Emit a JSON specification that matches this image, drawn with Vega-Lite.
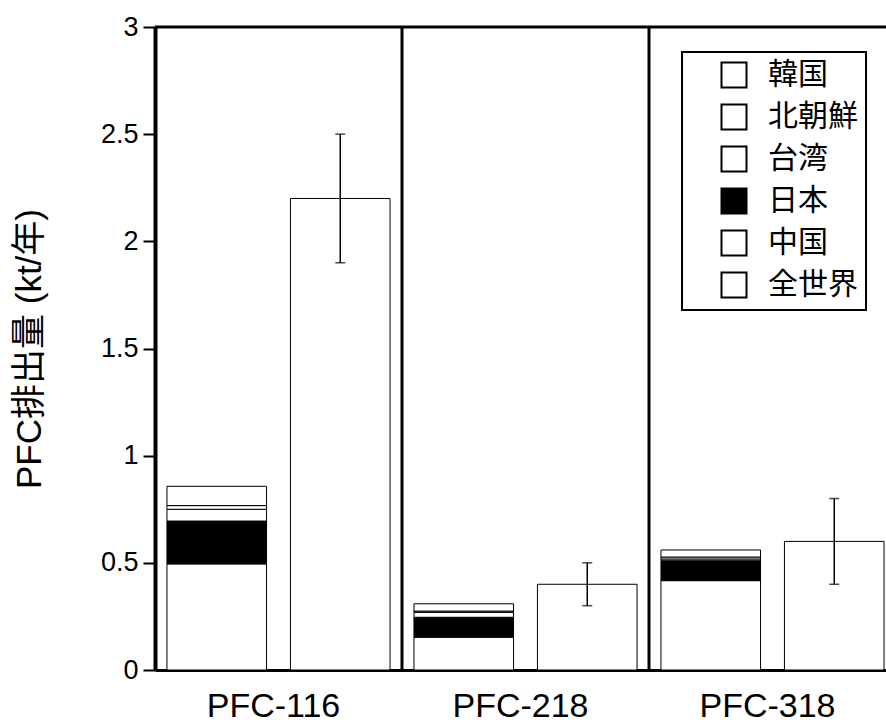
{
  "$schema": "https://vega.github.io/schema/vega-lite/v6.json",
  "width": 731,
  "height": 643,
  "autosize": {"type": "none"},
  "padding": {"left": 155, "top": 27, "right": 0, "bottom": 52},
  "config": {
    "view": {"stroke": null},
    "font": "Liberation Sans",
    "axis": {"domainColor": "black", "tickColor": "black", "labelColor": "black", "titleColor": "black", "grid": false},
    "legend": {"strokeColor": "black", "strokeWidth": 2, "fillColor": "white"}
  },
  "datasets": {
    "stack": [
      {"group": "PFC-116", "bar": "国別", "country": "中国", "k": 1, "value": 0.495},
      {"group": "PFC-116", "bar": "国別", "country": "日本", "k": 2, "value": 0.2},
      {"group": "PFC-116", "bar": "国別", "country": "台湾", "k": 3, "value": 0.055},
      {"group": "PFC-116", "bar": "国別", "country": "北朝鮮", "k": 4, "value": 0.017},
      {"group": "PFC-116", "bar": "国別", "country": "韓国", "k": 5, "value": 0.09},
      {"group": "PFC-218", "bar": "国別", "country": "中国", "k": 1, "value": 0.153},
      {"group": "PFC-218", "bar": "国別", "country": "日本", "k": 2, "value": 0.093},
      {"group": "PFC-218", "bar": "国別", "country": "台湾", "k": 3, "value": 0.023},
      {"group": "PFC-218", "bar": "国別", "country": "北朝鮮", "k": 4, "value": 0.006},
      {"group": "PFC-218", "bar": "国別", "country": "韓国", "k": 5, "value": 0.034},
      {"group": "PFC-318", "bar": "国別", "country": "中国", "k": 1, "value": 0.417},
      {"group": "PFC-318", "bar": "国別", "country": "日本", "k": 2, "value": 0.093},
      {"group": "PFC-318", "bar": "国別", "country": "台湾", "k": 3, "value": 0.008},
      {"group": "PFC-318", "bar": "国別", "country": "北朝鮮", "k": 4, "value": 0.009},
      {"group": "PFC-318", "bar": "国別", "country": "韓国", "k": 5, "value": 0.033}
    ],
    "global": [
      {"group": "PFC-116", "bar": "全世界", "country": "全世界", "value": 2.2, "lo": 1.9, "hi": 2.5},
      {"group": "PFC-218", "bar": "全世界", "country": "全世界", "value": 0.4, "lo": 0.3, "hi": 0.5},
      {"group": "PFC-318", "bar": "全世界", "country": "全世界", "value": 0.6, "lo": 0.4, "hi": 0.8}
    ],
    "sep": [
      {"group": "PFC-218"},
      {"group": "PFC-318"}
    ],
    "top": [
      {"v": 3}
    ]
  },
  "layer": [
    {
      "data": {"name": "stack"},
      "mark": {"type": "bar", "stroke": "black", "strokeWidth": 1},
      "encoding": {
        "x": {
          "field": "group", "type": "nominal",
          "scale": {"domain": ["PFC-116", "PFC-218", "PFC-318"], "paddingInner": 0, "paddingOuter": 0, "range": [0, 741]},
          "axis": {"title": null, "labelAngle": 0, "labelFontSize": 34, "labelFont": "Liberation Sans", "ticks": false, "tickSize": 0, "domainWidth": 3, "labelPadding": 46, "labelBaseline": "alphabetic", "labelOffset": -5}
        },
        "xOffset": {"field": "bar", "type": "nominal", "scale": {"domain": ["国別", "全世界"], "paddingInner": 0.1935, "paddingOuter": 0.0968}},
        "y": {
          "field": "value", "type": "quantitative", "stack": "zero",
          "scale": {"domain": [0, 3], "nice": false},
          "axis": {"title": "PFC排出量 (kt/年)", "values": [0, 0.5, 1, 1.5, 2, 2.5, 3], "format": "~g", "labelFontSize": 27, "labelFont": "Liberation Sans", "titleFontSize": 35, "titleFont": "Liberation Sans, Noto Sans CJK JP", "titleFontWeight": "normal", "titlePadding": 53, "tickSize": 12, "tickWidth": 2, "domainWidth": 4, "labelPadding": 5}
        },
        "fill": {
          "field": "country", "type": "nominal",
          "scale": {"domain": ["韓国", "北朝鮮", "台湾", "日本", "中国", "全世界"], "range": ["white", "white", "white", "black", "white", "white"]},
          "legend": {"orient": "none", "legendX": 527, "legendY": 25, "title": null, "symbolType": "square", "symbolSize": 625, "symbolStrokeColor": "black", "symbolStrokeWidth": 2, "labelFont": "Noto Sans CJK JP", "labelFontSize": 30, "labelColor": "black", "padding": 8, "rowPadding": 8, "symbolOffset": 29, "labelOffset": 19}
        },
        "order": {"field": "k", "type": "quantitative"}
      }
    },
    {
      "data": {"name": "global"},
      "mark": {"type": "bar", "stroke": "black", "strokeWidth": 1},
      "encoding": {
        "x": {"field": "group", "type": "nominal"},
        "xOffset": {"field": "bar", "type": "nominal"},
        "y": {"field": "value", "type": "quantitative"},
        "fill": {"field": "country", "type": "nominal"}
      }
    },
    {
      "data": {"name": "global"},
      "mark": {"type": "rule", "color": "black", "strokeWidth": 1.5},
      "encoding": {
        "x": {"field": "group", "type": "nominal"},
        "xOffset": {"field": "bar", "type": "nominal"},
        "y": {"field": "lo", "type": "quantitative"},
        "y2": {"field": "hi"}
      }
    },
    {
      "data": {"name": "global"},
      "mark": {"type": "tick", "color": "black", "thickness": 1.5, "size": 10, "orient": "horizontal"},
      "encoding": {
        "x": {"field": "group", "type": "nominal"},
        "xOffset": {"field": "bar", "type": "nominal"},
        "y": {"field": "lo", "type": "quantitative"}
      }
    },
    {
      "data": {"name": "global"},
      "mark": {"type": "tick", "color": "black", "thickness": 1.5, "size": 10, "orient": "horizontal"},
      "encoding": {
        "x": {"field": "group", "type": "nominal"},
        "xOffset": {"field": "bar", "type": "nominal"},
        "y": {"field": "hi", "type": "quantitative"}
      }
    },
    {
      "data": {"name": "sep"},
      "mark": {"type": "rule", "color": "black", "strokeWidth": 3},
      "encoding": {
        "x": {"field": "group", "type": "nominal", "bandPosition": 0}
      }
    },
    {
      "data": {"name": "top"},
      "mark": {"type": "rule", "color": "black", "strokeWidth": 3},
      "encoding": {
        "y": {"field": "v", "type": "quantitative"}
      }
    }
  ]
}
